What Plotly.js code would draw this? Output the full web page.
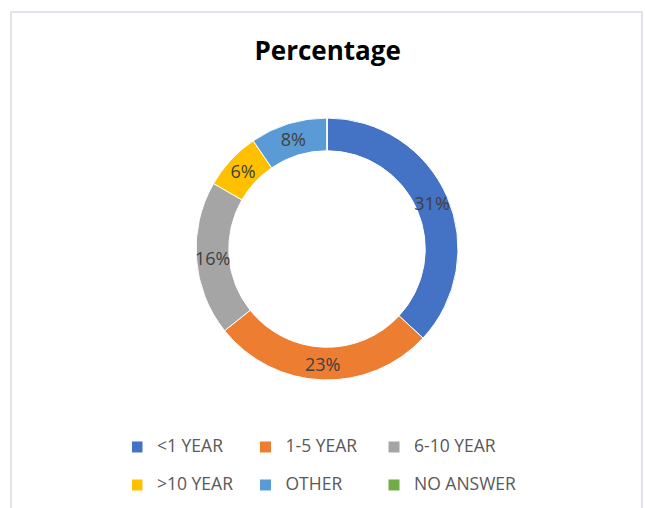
<!DOCTYPE html>
<html>
<head>
<meta charset="utf-8">
<script src="https://cdn.plot.ly/plotly-3.0.1.min.js"></script>
<style>
  html, body { margin: 0; padding: 0; background: #ffffff; }
  #wrap { position: relative; width: 645px; height: 508px; overflow: hidden; }
  #chart { position: absolute; left: 0; top: 0; width: 645px; height: 508px; }
  #frame { position: absolute; left: 10px; top: 11px; width: 633px; height: 520px; box-sizing: border-box;
           border: 2px solid #e1e4ea; pointer-events: none; }
</style>
</head>
<body>
<div id="wrap">
  <div id="chart"></div>
  <div id="frame"></div>
</div>
<script>
const categories = ['<1 YEAR', '1-5 YEAR', '6-10 YEAR', '>10 YEAR', 'OTHER', 'NO ANSWER'];
const percentages = [31, 23, 16, 6, 8, 0];
const sliceColors = ['#4472C4', '#ED7D31', '#A5A5A5', '#FFC000', '#5B9BD5', '#70AD47'];

// Legend entries: a blank first line only adds row spacing; visible text is 17.5px
const esc = s => s.replace(/</g, '&lt;').replace(/>/g, '&gt;');
const legendLabels = categories.map(c => ' <br><span style="font-size:17.5px">' + esc(c) + '</span>');

const W = 645, H = 508;
const M = { l: 100, r: 95, t: 0, b: 0 };     // plot area 450 px wide -> 3 legend columns
const PW = W - M.l - M.r, PH = H - M.t - M.b;
const cx = 327, cy = 249;        // donut centre (px from top-left of page)
const rOuter = 131, hole = 0.75;
// text ring: same centre, label radius = middle of the visible ring
const labelHole = 0.64;
const rLabel = rOuter * (1 + hole) / (1 + labelHole);

function domainFor(r) {
  return {
    x: [(cx - r - M.l) / PW, (cx + r - M.l) / PW],
    y: [(H - cy - r - M.b) / PH, (H - cy + r - M.b) / PH]
  };
}

const donut = {
  type: 'pie',
  labels: legendLabels,
  values: percentages,
  hole: hole,
  sort: false,
  direction: 'clockwise',
  rotation: 0,
  marker: { colors: sliceColors, line: { color: '#ffffff', width: 1 } },
  textinfo: 'none',
  domain: domainFor(rOuter),
  hoverinfo: 'skip'
};

const labelRing = {
  type: 'pie',
  labels: legendLabels,
  values: percentages,
  hole: labelHole,
  sort: false,
  direction: 'clockwise',
  rotation: 0,
  showlegend: false,
  marker: { colors: sliceColors.map(() => 'rgba(0,0,0,0)'), line: { width: 0 } },
  texttemplate: '%{value}%',
  textposition: 'inside',
  insidetextorientation: 'horizontal',
  textfont: { family: 'Open Sans, sans-serif', size: 18, color: '#404040' },
  domain: domainFor(rLabel),
  hoverinfo: 'skip'
};

const legendLeft = 132;     // px from page left
const legendTop = 414.25;   // px from page top

const layout = {
  width: W,
  height: H,
  margin: M,
  paper_bgcolor: '#ffffff',
  title: {
    text: '<b>Percentage</b>',
    font: { family: 'Open Sans, sans-serif', size: 26, color: '#000000' },
    x: 0.508, xanchor: 'center', y: 0.9, yanchor: 'middle'
  },
  showlegend: true,
  legend: {
    orientation: 'h',
    x: (legendLeft - M.l) / PW, xanchor: 'left',
    y: (H - legendTop - M.b) / PH, yanchor: 'top',
    valign: 'bottom',
    indentation: -15,
    borderwidth: 0,
    bgcolor: 'rgba(0,0,0,0)',
    entrywidth: 98.5, entrywidthmode: 'pixels',
    font: { family: 'Open Sans, sans-serif', size: 13.46, color: '#595959' },
    traceorder: 'normal'
  }
};

Plotly.newPlot('chart', [donut, labelRing], layout, { displayModeBar: false, staticPlot: true });
</script>
</body>
</html>
